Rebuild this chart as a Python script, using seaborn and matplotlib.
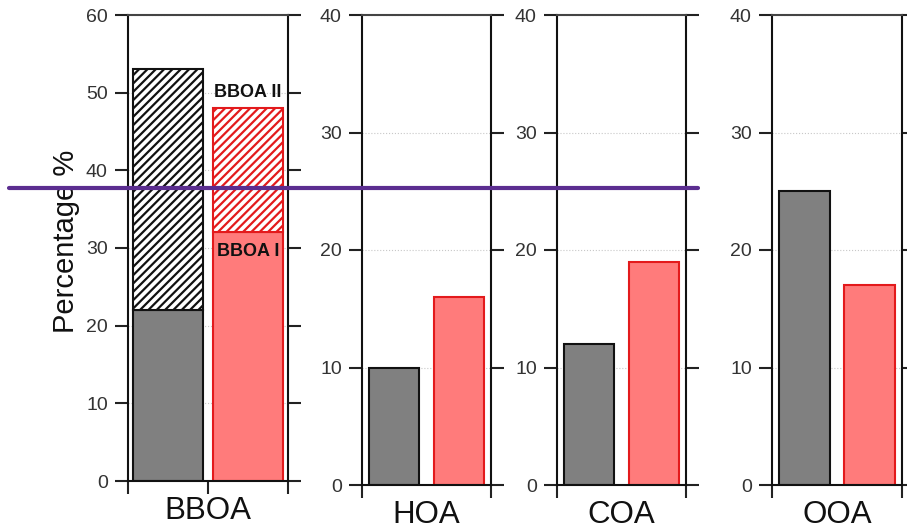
import matplotlib
matplotlib.use("Agg")
import matplotlib.pyplot as plt
from matplotlib.lines import Line2D
import seaborn as sns
import pandas as pd

# ---------------- data ----------------
categories = ["BBOA", "HOA", "COA", "OOA"]
groups = ["site A", "site B"]
gray_values = [22, 10, 12, 25]      # grey bars (BBOA I part for BBOA)
red_values = [32, 16, 19, 17]       # red bars (BBOA I part for BBOA)
bboa2_values = [31, 16]             # BBOA II stacked on top (grey, red)
y_max = [60, 40, 40, 40]
ylabel = "Percentage %"

# ---------------- style ----------------
sns.set_theme(style="white")
plt.rcParams["font.family"] = ["Liberation Sans", "DejaVu Sans"]
plt.rcParams["hatch.linewidth"] = 1.6

GRAY = "#808080"
RED_FILL = "#ff7b7b"
RED_EDGE = "#e31a1c"
BLACK = "#111111"

fig = plt.figure(figsize=(9.07, 5.3), dpi=100)

W, H = 907.0, 530.0
boxes = [(128, 288, 15, 481), (362, 491, 15, 485), (557, 686, 15, 485), (772, 902, 15, 485)]
widths = [0.875, 0.78, 0.78, 0.78]

for i, cat in enumerate(categories):
    l, r, t, b = boxes[i]
    ax = fig.add_axes([l / W, 1 - b / H, (r - l) / W, (b - t) / H])
    df = pd.DataFrame({"group": groups, "value": [gray_values[i], red_values[i]]})
    sns.barplot(data=df, x="group", y="value", hue="group", palette=[GRAY, RED_FILL],
                width=widths[i], legend=False, ax=ax, saturation=1, zorder=2)
    for patch, ec in zip(ax.patches, [BLACK, RED_EDGE]):
        patch.set_edgecolor(ec)
        patch.set_linewidth(1.5)
    if i == 0:
        for j, ec in enumerate([BLACK, RED_EDGE]):
            ax.bar(j, bboa2_values[j], bottom=[gray_values[0], red_values[0]][j],
                   width=widths[i], color="white", edgecolor=ec, hatch="////",
                   linewidth=1.5, zorder=2)
        ax.text(1, 50, "BBOA II", ha="center", va="center", fontweight="bold",
                fontsize=13, color=BLACK, zorder=5)
        ax.text(1, 29.5, "BBOA I", ha="center", va="center", fontweight="bold",
                fontsize=13, color=BLACK, zorder=5)
    ax.set_xlim(-0.5, 1.5)
    ax.set_ylim(0, y_max[i])
    ax.set_yticks(range(0, y_max[i] + 1, 10))
    ax.set_xticks([-0.5, 0.5, 1.5] if i == 0 else [-0.5, 1.5])
    ax.set_xticklabels([])
    ax.set_ylabel("")
    ax.set_xlabel(cat, fontsize=22.5, labelpad=-2, color=BLACK)
    ax.yaxis.grid(True, linestyle=":", color="#c8c8c8", linewidth=0.8)
    ax.set_axisbelow(True)
    ax.tick_params(axis="y", left=True, right=True, labelright=False, direction="out",
                   length=9.5, width=1.5, colors="#222222", labelsize=14, labelcolor="#333333", pad=5)
    ax.tick_params(axis="x", bottom=True, direction="out", length=9.5, width=1.5, colors="#222222")
    for s in ax.spines.values():
        s.set_visible(True)
        s.set_color(BLACK)
        s.set_linewidth(1.5)
    ax.spines["top"].set_color("#444444")

fig.text(66 / W, 1 - 241 / H, ylabel, rotation=90, ha="center", va="center",
         fontsize=21, color=BLACK)

# purple horizontal overlay line
line_x = [9 / W, 698 / W]
line_y = [1 - 188 / H, 1 - 188 / H]
fig.add_artist(Line2D(line_x, line_y, transform=fig.transFigure, color="#5b2d90", lw=3, zorder=10))

fig.savefig("out.png", dpi=100, facecolor="white")
